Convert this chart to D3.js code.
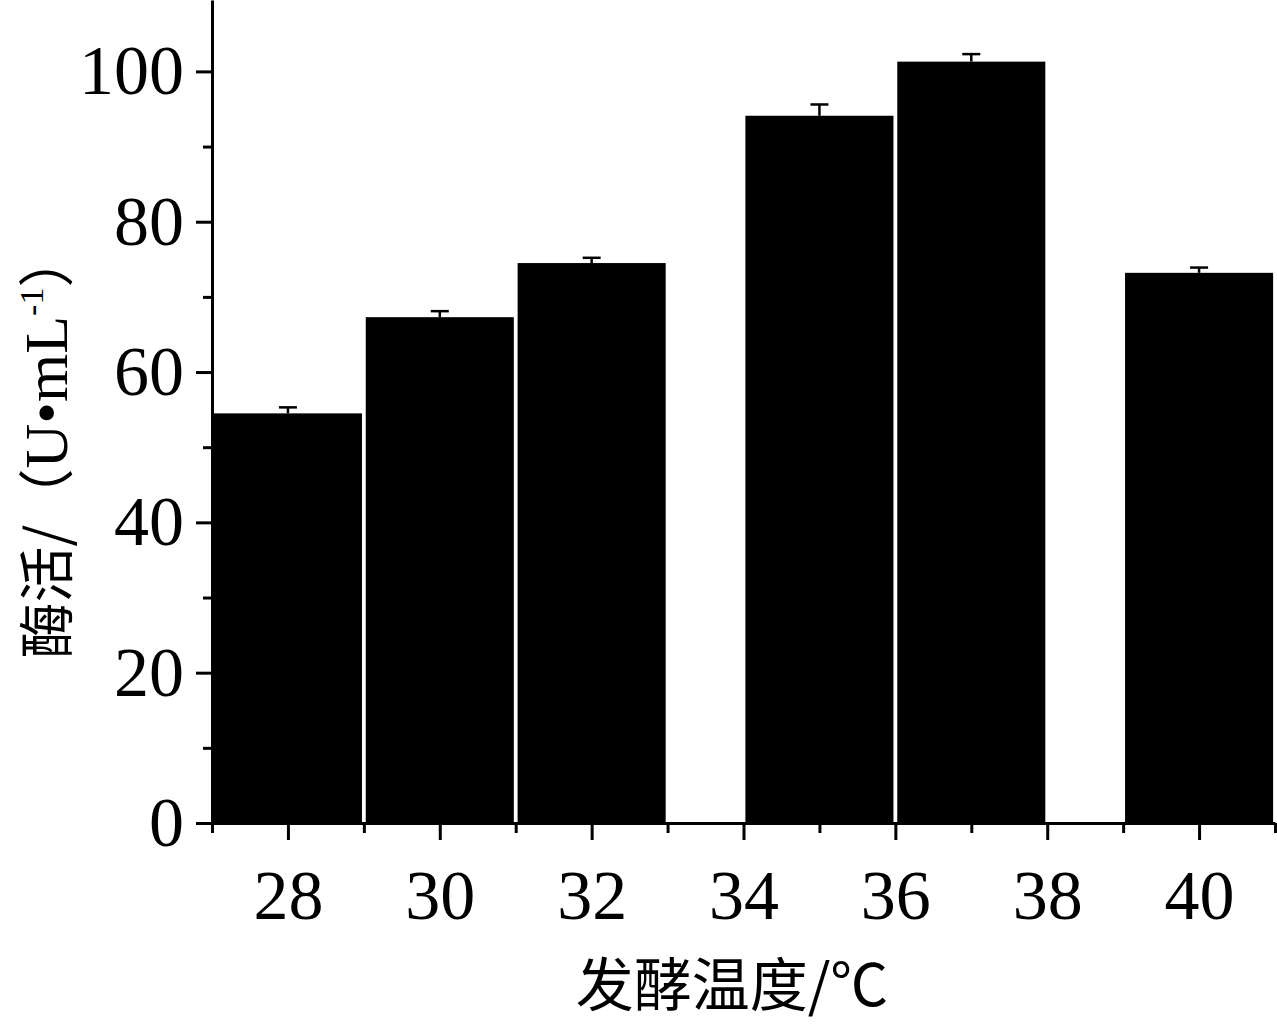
<!DOCTYPE html>
<html>
<head>
<meta charset="utf-8">
<script src="https://cdn.jsdelivr.net/npm/d3@7"></script>
<style>
	body { margin: 0; background: #fff; }
	svg { display: block; }
	.axis path, .axis line { stroke: #000; stroke-width: 3; }
	.axis text { font-family: "Liberation Serif", "Times New Roman", serif; font-size: 70px; fill: #000; }
</style>
</head>
<body>
<svg id="chart" width="1277" height="1027"></svg>
<script>
// fermentation temperature (x position of each bar), enzyme activity and its error
const temps = [28, 30, 32, 35, 37, 40];
const activity = [54.5, 67.3, 74.5, 94.1, 101.3, 73.2];
const errors = [0.8, 0.8, 0.7, 1.5, 1.0, 0.7];

const xMajorTicks = [28, 30, 32, 34, 36, 38, 40];
const xMinorTicks = [27, 29, 31, 33, 35, 37, 39, 41];
const yMajorTicks = [0, 20, 40, 60, 80, 100];
const yMinorTicks = [10, 30, 50, 70, 90];

const barWidth = 1.95; // in x units

const svg = d3.select("#chart");

const x = d3.scaleLinear().domain([27, 41]).range([212, 1275]);
const y = d3.scaleLinear().domain([0, 109.5]).range([823, 0]);

// bars
svg.append("g").selectAll("rect")
	.data(temps)
	.join("rect")
	.attr("x", (d) => x(d - barWidth / 2))
	.attr("y", (d, i) => y(activity[i]))
	.attr("width", x(27 + barWidth) - x(27))
	.attr("height", (d, i) => y(0) - y(activity[i]))
	.attr("fill", "#000");

// error bars
const err = svg.append("g").attr("stroke", "#000").attr("stroke-width", 2.5);
temps.forEach((t, i) => {
	const cx = x(t);
	err.append("line")
		.attr("x1", cx).attr("x2", cx)
		.attr("y1", y(activity[i])).attr("y2", y(activity[i] + errors[i]));
	err.append("line")
		.attr("x1", cx - 9).attr("x2", cx + 9)
		.attr("y1", y(activity[i] + errors[i])).attr("y2", y(activity[i] + errors[i]));
});

// x axis
svg.append("g").attr("class", "axis")
	.attr("transform", `translate(0,${y(0)})`)
	.call(d3.axisBottom(x).tickValues(xMinorTicks).tickSize(10).tickFormat("").tickSizeOuter(0));
svg.append("g").attr("class", "axis")
	.attr("transform", `translate(0,${y(0)})`)
	.call(d3.axisBottom(x).tickValues(xMajorTicks).tickSize(17).tickPadding(29).tickSizeOuter(0))
	.call(g => g.select(".domain").remove());

// y axis
svg.append("g").attr("class", "axis")
	.attr("transform", `translate(${x(27)},0)`)
	.call(d3.axisLeft(y).tickValues(yMinorTicks).tickSize(9).tickFormat("").tickSizeOuter(0));
svg.append("g").attr("class", "axis")
	.attr("transform", `translate(${x(27)},0)`)
	.call(d3.axisLeft(y).tickValues(yMajorTicks).tickSize(16).tickPadding(12).tickSizeOuter(0))
	.call(g => g.select(".domain").remove());

// axis titles
svg.append("text")
	.attr("x", 732).attr("y", 1006)
	.attr("text-anchor", "middle")
	.attr("font-family", "'Noto Sans CJK SC', sans-serif")
	.attr("font-size", 58)
	.text("发酵温度/℃");

const cjk = "'Noto Sans CJK SC', sans-serif";
const serif = "'Liberation Serif', serif";
const yt = svg.append("text")
	.attr("transform", "translate(67,445) rotate(-90)")
	.attr("text-anchor", "middle")
	.attr("font-size", 56);
yt.append("tspan").attr("font-family", cjk).text("酶活/（");
yt.append("tspan").attr("font-family", serif).attr("font-size", 62).text("U•mL");
yt.append("tspan").attr("font-family", serif)
	.attr("font-size", 34).attr("dy", -24).text("-1");
yt.append("tspan").attr("font-family", cjk)
	.attr("dy", 24).text("）");
</script>
</body>
</html>
